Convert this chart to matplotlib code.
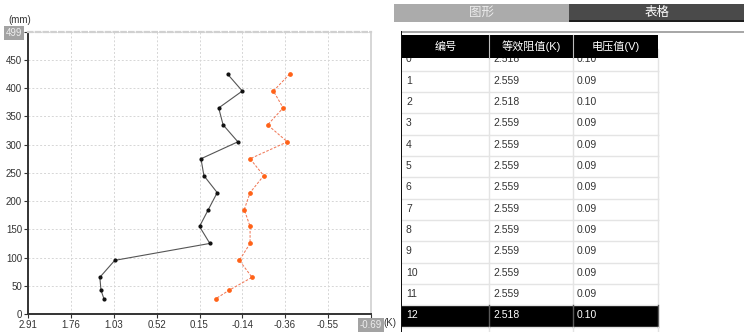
import numpy as np
import matplotlib
matplotlib.use("Agg")
import matplotlib.pyplot as plt
from matplotlib.patches import Rectangle

plt.rcParams['font.family'] = ['Liberation Sans', 'Noto Sans CJK SC', 'DejaVu Sans']

# ---- depth profile (mm) and the two measured curves ----
depth = [425, 395, 365, 335, 305, 275, 245, 215, 185, 155, 125, 95, 65, 42, 27]
series_a = [-0.04, -0.14, 0.02, -0.01, -0.11, 0.14, 0.12, 0.03, 0.09, 0.15, 0.08,
            1.02, 1.27, 1.25, 1.20]
series_b = [-0.38, -0.30, -0.35, -0.27, -0.37, -0.18, -0.25, -0.18, -0.15, -0.18,
            -0.18, -0.12, -0.19, -0.05, 0.04]

x_ticks = [2.91, 1.76, 1.03, 0.52, 0.15, -0.14, -0.36, -0.55, -0.69]
y_ticks = [0, 50, 100, 150, 200, 250, 300, 350, 400, 450]
y_max = 499

# ---- table contents ----
tabs = ['图形', '表格']
table_header = ['编号', '等效阻值(K)', '电压值(V)']
table_ids = [str(i) for i in range(13)]
table_res = ['2.518', '2.559', '2.518'] + ['2.559'] * 9 + ['2.518']
table_volt = ['0.10', '0.09', '0.10'] + ['0.09'] * 9 + ['0.10']
highlight_row = 12

W, H = 744, 332
fig = plt.figure(figsize=(W / 100, H / 100), dpi=100)
fig.patch.set_facecolor('white')


def fx(px):
    return px / W


def fy(py):
    return 1 - py / H


# ---- chart ----
ax_l, ax_r, ax_t, ax_b = 28.3, 370.7, 32.3, 314.0
ax = fig.add_axes([fx(ax_l), fy(ax_b), (ax_r - ax_l) / W, (ax_b - ax_t) / H])
ax.set_zorder(5)

tick_vals = np.array(sorted(x_ticks), dtype=float)
tick_pos = np.arange(len(tick_vals), dtype=float)


def fwd(v):
    return np.interp(v, tick_vals, tick_pos)


def inv(p):
    return np.interp(p, tick_pos, tick_vals)


ax.set_xscale('function', functions=(fwd, inv))
ax.set_xlim(x_ticks[0], x_ticks[-1])
ax.set_ylim(0, y_max)

ax.plot(series_a, depth, color='#555555', lw=0.8, marker='o', ms=2.0,
        mfc='#111111', mec='#111111', zorder=3)
ax.plot(series_b, depth, color='#f07a5a', lw=0.75, ls=(0, (2.5, 1.5)),
        marker='o', ms=2.4, mfc='#ff6218', mec='#ff6218', zorder=3)

ax.set_xticks(x_ticks)
ax.set_xticklabels([f'{v:.2f}' for v in x_ticks])
ax.set_yticks(y_ticks + [y_max])
ax.set_yticklabels([str(v) for v in y_ticks] + [str(y_max)])

ax.grid(True, color='#d6d6d6', ls=(0, (2, 2)), lw=0.7)
ax.set_axisbelow(True)
ax.tick_params(direction='out', length=3, width=0.8, colors='#333333',
               labelsize=7, pad=1.5)
for s in ('left', 'bottom'):
    ax.spines[s].set_color('#333333')
    ax.spines[s].set_linewidth(1.4)
ax.spines['right'].set_color('#d0d0d0')
ax.spines['right'].set_linewidth(1.2)
ax.spines['top'].set_color('#d0d0d0')
ax.spines['top'].set_linewidth(1.6)
ax.spines['top'].set_linestyle((0, (2, 1.5)))

box = dict(facecolor='#a3a3a3', edgecolor='none', pad=1.5)
ylab = ax.get_yticklabels()[-1]
ylab.set_bbox(box)
ylab.set_color('#eeeeee')
xlab = ax.get_xticklabels()[-1]
xlab.set_bbox(box)
xlab.set_color('#eeeeee')

fig.text(fx(8), fy(20), '(mm)', fontsize=7, color='#333333', va='center', ha='left')
fig.text(fx(383), fy(323), '(K)', fontsize=7, color='#333333', va='center', ha='left',
         zorder=1)

# ---- tabbed table panel ----
tp = fig.add_axes([0, 0, 1, 1])
tp.set_xlim(0, W)
tp.set_ylim(H, 0)
tp.axis('off')
tp.patch.set_alpha(0)


def rect(x0, y0, x1, y1, color, z=1):
    tp.add_patch(Rectangle((x0, y0), x1 - x0, y1 - y0, facecolor=color,
                           edgecolor='none', zorder=z))


# tab bar
rect(394, 4, 569, 22, '#ababab')
rect(569, 4, W, 22, '#4a4a4a')
rect(569, 20, W, 22, '#1e1e1e', 2)
tp.text(482, 13, tabs[0], fontsize=9, color='#ececec', ha='center', va='center')
tp.text(657, 13, tabs[1], fontsize=9, color='white', ha='center', va='center')

# panel frame
rect(401, 30.5, W, 32.5, '#a8a8a8', 6)
rect(400.5, 30.5, 402.2, H, '#111111', 6)

col_x = [402, 489, 573, 658]
row_h = 21.33
row0_top = 70.7 - row_h
head_top, head_bot = 35, 58

# body rows
for i, (rid, res, volt) in enumerate(zip(table_ids, table_res, table_volt)):
    top = row0_top + i * row_h
    bot = top + row_h
    dark = (i == highlight_row)
    rect(col_x[0], top, col_x[-1], bot, '#000000' if dark else 'white', 1)
    line_c = '#5a5a5a' if dark else '#e4e4e4'
    tp.plot([col_x[0], col_x[-1]], [bot, bot], color='#e4e4e4', lw=1, zorder=2)
    for cx in col_x[1:]:
        tp.plot([cx, cx], [top, bot], color=line_c, lw=1, zorder=2)
    yc = top + row_h / 2 - 0.8
    tc = 'white' if dark else '#333333'
    for cx, txt in zip(col_x[:3], (rid, res, volt)):
        tp.text(cx + 4, yc, txt, fontsize=7.5, color=tc, ha='left', va='center',
                zorder=3)

# lower edge of the table continues past the highlighted row
last_bot = row0_top + len(table_ids) * row_h
for cx in col_x[1:]:
    tp.plot([cx, cx], [last_bot, H], color='#e4e4e4', lw=1, zorder=2)

# header (covers the top of row 0)
rect(398, 31.5, W, head_top, 'white', 4)
rect(col_x[0], head_top, col_x[-1], head_bot, '#000000', 4)
for cx in col_x[1:3]:
    tp.plot([cx, cx], [head_top, head_bot], color='#bdbdbd', lw=0.8, zorder=4.5)
for c0, c1, txt in zip(col_x[:3], col_x[1:], table_header):
    tp.text((c0 + c1) / 2, (head_top + head_bot) / 2, txt, fontsize=8,
            color='white', ha='center', va='center', zorder=5)

fig.savefig('out.png', dpi=100, facecolor='white')
